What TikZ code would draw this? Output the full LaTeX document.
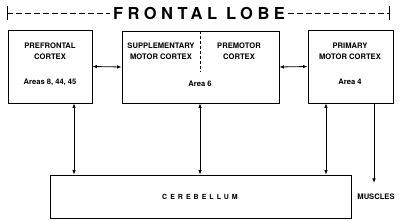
\documentclass[tikz,border=0pt]{standalone}
\usepackage{fontspec}
\setmainfont{TeX Gyre Heros}
\usetikzlibrary{arrows.meta}
\begin{document}
\begin{tikzpicture}[x=1pt,y=-1pt,
  box/.style={draw,line width=0.8pt,rectangle,inner sep=0pt},
  lbl/.style={font=\fontsize{7.6}{11}\selectfont\bfseries,align=center,inner sep=0pt},
  conn/.style={line width=0.8pt,{Latex[length=4.5pt,width=3.5pt]}-{Latex[length=4.5pt,width=3.5pt]}},
  oneway/.style={line width=0.8pt,-{Latex[length=4.5pt,width=3.5pt]}},
  lobe/.style={line width=0.8pt,dash pattern=on 6pt off 3pt}]
\useasboundingbox (0,0) rectangle (400,221);
% title line
\node[inner sep=0pt,font=\fontsize{16.5}{18}\selectfont\bfseries\addfontfeatures{LetterSpace=27}] (title) at (199,13) {FRONTAL LOBE};
\coordinate (tl) at (7,13);
\coordinate (tr) at (389,13);
\draw[line width=0.8pt] (7,6) -- (7,20);
\draw[line width=0.8pt] (389,6) -- (389,20);
\draw[lobe] (tl) -- ([xshift=-3pt]title.west);
\draw[lobe] ([xshift=3pt]title.east) -- (tr);
% boxes
\node[box,minimum width=84pt,minimum height=73pt] (pf) at (50,66.5) {};
\node[box,minimum width=157pt,minimum height=72pt] (mid) at (200.5,67) {};
\node[box,minimum width=85pt,minimum height=73pt] (pm) at (350.5,66.5) {};
\node[box,minimum width=301pt,minimum height=43pt] (cb) at (200.5,196.5) {};
% divider
\coordinate (dv) at (200,72);
\draw[line width=0.8pt,dash pattern=on 3pt off 2pt] (mid.north -| dv) -- (dv);
% labels
\node[lbl] (pft) at (50,51) {PREFRONTAL\\CORTEX};
\node[lbl] (pfa) at (50,82) {Areas 8, 44, 45};
\node[lbl] (smt) at (161,51) {SUPPLEMENTARY\\MOTOR CORTEX};
\node[lbl] (pmt) at (239,51) {PREMOTOR\\CORTEX};
\node[lbl] (mida) at (200,84) {Area 6};
\node[lbl] (pmtt) at (350,51) {PRIMARY\\MOTOR CORTEX};
\node[lbl] (pma) at (350,82) {Area 4};
\node[inner sep=0pt,font=\fontsize{7}{8}\selectfont\bfseries\addfontfeatures{LetterSpace=43}] (cbt) at (200,197) {CEREBELLUM};
\node[lbl] (mus) at (376,197) {MUSCLES};
% connectors
\draw[conn] (pf.east) -- (mid.west);
\draw[conn] (mid.east) -- (pm.east -| pm.west);
\coordinate (c1) at (74,0);
\coordinate (c2) at (200,0);
\coordinate (c3) at (326,0);
\coordinate (c4) at (374,0);
\draw[conn] (pf.south -| c1) -- (cb.north -| c1);
\draw[conn] (mid.south -| c2) -- (cb.north -| c2);
\draw[conn] (pm.south -| c3) -- (cb.north -| c3);
\coordinate (muse) at (374,183);
\draw[oneway] (pm.south -| c4) -- (muse);
\end{tikzpicture}
\end{document}
